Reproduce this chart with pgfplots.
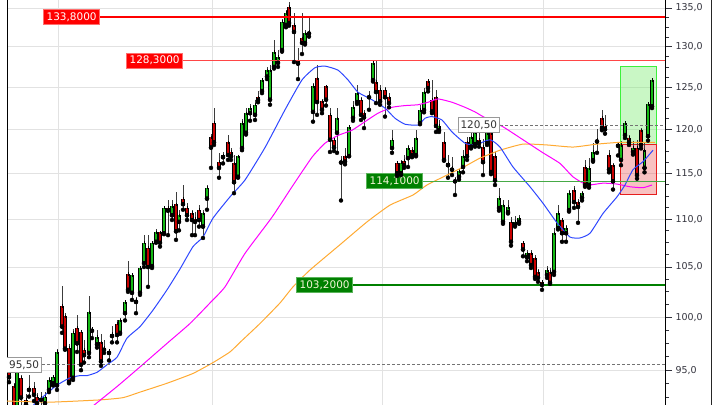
\documentclass[border=0pt]{standalone}
\usepackage{pgfplots}
\pgfplotsset{compat=1.18}
\usepackage{pgfplotstable}
\usepackage{fontspec}
\setmainfont{DejaVu Sans}

\definecolor{cgreen}{RGB}{20,185,20}
\definecolor{cred}{RGB}{200,0,0}
\definecolor{wick}{RGB}{60,60,60}
\definecolor{mablue}{RGB}{45,70,255}
\definecolor{mamag}{RGB}{255,0,255}
\definecolor{maorange}{RGB}{255,170,50}
\definecolor{lvlred}{RGB}{255,0,0}
\definecolor{lvlred2}{RGB}{255,70,70}
\definecolor{lvlredborder}{RGB}{255,110,110}
\definecolor{lvlgreen}{RGB}{0,128,0}
\definecolor{lvlgreen2}{RGB}{70,170,70}
\definecolor{lvlgreenborder}{RGB}{90,180,90}
\definecolor{lbltext}{RGB}{245,245,215}
\definecolor{gridgray}{RGB}{226,226,226}
\definecolor{tickgray}{RGB}{50,50,60}
\definecolor{boxgreenfill}{RGB}{120,235,110}
\definecolor{boxgreenline}{RGB}{60,240,60}
\definecolor{boxredfill}{RGB}{235,80,80}
\definecolor{boxredline}{RGB}{230,30,30}

\pgfplotstableread{
x o h l c
9 94.86 95.2 93.9 94.35
14 93.56 93.8 91.0 91.5
17 91.7 95.3 91.3 95.0
21 94.3 94.6 91.5 92.5
26 92.3 92.8 91.2 91.9
29 93.2 94.6 92.6 93.4
34 93.4 93.9 92.2 92.75
37 92.6 92.9 91.5 92.0
41 92.3 93.0 91.6 92.5
45 92.0 93.0 91.6 92.6
49 93.2 94.4 93.0 94.1
53 93.8 94.6 93.6 94.4
57 93.6 97.0 93.2 96.7
62 101.1 103.1 98.5 99.1
65 100.1 100.4 96.9 97.0
69 97.1 97.4 93.8 93.9
73 94.3 98.9 94.1 98.5
77 99.0 100.2 96.7 97.5
81 98.6 98.7 95.0 95.5
84 96.9 97.8 95.7 96.4
89 96.6 102.1 96.2 100.5
92 98.9 99.1 98.0 98.7
97 97.4 98.8 97.1 98.1
101 97.6 98.4 95.4 95.8
104 97.1 97.8 96.6 96.9
109 96.8 96.9 95.9 96.6
112 98.2 99.2 97.6 98.4
117 99.4 99.7 97.6 98.3
120 98.5 99.9 98.4 99.7
125 100.4 101.6 99.7 101.5
128 104.3 105.6 102.5 102.7
132 102.4 104.4 101.7 104.2
136 101.5 102.0 100.4 101.7
140 102.4 105.1 102.2 104.9
144 105.4 108.3 105.0 107.5
148 107.0 108.3 103.0 105.0
152 105.1 107.6 104.9 107.5
156 107.6 108.9 107.5 108.6
160 108.6 108.7 107.1 107.5
164 108.5 111.3 108.4 111.2
168 111.2 112.1 108.3 110.9
172 110.4 112.1 109.9 111.4
176 111.6 112.9 107.8 108.7
179 109.7 111.0 108.8 110.4
183 112.2 113.7 111.0 111.6
187 111.2 111.7 109.9 110.4
192 110.65 111.0 108.3 109.9
195 110.0 110.8 108.3 109.7
199 111.0 111.5 109.2 109.9
203 109.2 111.0 108.0 110.6
207 112.2 113.7 111.0 113.4
211 119.1 119.5 115.6 117.9
214 120.8 122.5 118.2 118.5
219 116.3 117.3 114.5 115.6
223 116.8 117.4 116.1 117.0
228 118.5 119.3 116.5 117.05
231 117.4 117.8 116.5 116.9
234 116.1 117.0 112.8 114.0
238 114.6 117.1 114.5 116.9
242 117.85 121.2 117.6 120.75
246 119.6 122.5 119.4 121.9
250 121.9 123.0 121.0 122.5
255 121.7 123.5 121.1 122.9
258 123.8 124.5 123.2 123.47
262 124.55 126.1 124.3 125.89
267 126.3 127.5 126.0 127.1
270 123.5 127.74 122.9 127.1
274 127.5 130.9 127.3 129.36
278 128.0 129.6 127.5 128.74
282 129.6 133.5 129.4 133.2
286 132.8 134.7 132.5 134.35
289 135.13 135.8 132.7 133.05
294 132.8 134.3 128.1 131.9
298 128.2 129.9 126.0 127.9
302 131.1 134.3 129.1 130.5
305 130.5 132.2 130.3 131.7
309 131.9 133.9 131.3 131.7
313 122.05 125.5 120.9 125.16
317 126.1 127.7 121.7 123.23
322 123.3 123.6 121.9 122.3
326 125.1 125.3 122.8 123.5
330 121.7 122.5 117.4 118.8
334 118.8 119.1 117.5 117.9
337 119.6 122.5 117.3 121.3
341 116.4 116.9 112.0 116.2
345 116.9 117.85 116.0 116.3
349 116.94 120.4 116.9 120.27
353 121.34 123.3 121.0 122.64
357 123.23 125.3 123.0 124.31
361 123.5 123.8 121.1 121.7
364 121.9 122.3 120.15 121.4
369 123.8 124.6 122.3 124.0
373 125.89 128.1 125.7 127.99
376 125.65 128.2 123.1 124.43
380 124.7 125.3 122.9 123.3
385 124.7 125.0 121.5 123.8
389 123.8 124.3 122.6 123.1
392 117.85 119.9 117.3 118.8
397 116.2 116.4 114.7 115.0
401 115.0 116.5 114.8 116.2
404 116.4 117.0 115.6 115.9
408 116.7 118.2 115.7 117.85
412 117.6 118.0 116.8 117.05
416 117.05 119.9 116.9 118.95
420 120.75 122.9 120.6 122.28
424 122.28 124.9 122.0 124.4
428 125.77 126.0 124.5 124.91
432 123.5 125.9 121.9 122.1
436 123.8 124.7 119.7 120.4
439 119.9 121.1 119.7 120.4
444 118.5 119.7 116.4 116.5
448 115.9 117.0 114.5 116.1
452 115.6 116.8 114.8 115.4
455 114.3 114.6 112.6 114.1
459 114.6 115.5 114.3 115.2
463 115.7 117.6 115.1 116.9
467 118.5 119.1 116.5 116.9
471 118.0 119.6 117.8 119.1
475 118.3 120.4 118.0 119.6
479 118.8 119.8 118.0 118.4
483 117.96 118.9 114.8 116.25
487 118.4 120.0 118.2 119.57
491 119.57 120.1 114.9 115.14
495 116.9 117.4 113.7 114.2
499 111.19 113.4 110.9 112.27
503 109.7 112.1 109.5 111.5
508 110.75 112.1 110.6 111.3
511 109.7 110.2 107.2 107.6
515 109.4 110.3 109.2 109.7
519 109.7 110.44 109.5 110.1
523 107.5 107.7 106.1 106.8
527 106.0 106.8 105.6 106.4
531 106.4 106.7 104.9 105.2
535 105.9 106.2 103.8 104.0
538 104.5 104.8 103.5 103.9
542 103.5 103.7 102.7 103.2
547 104.2 105.1 103.9 104.7
550 104.5 104.9 103.3 103.4
554 104.5 109.0 104.2 108.5
558 109.05 111.5 108.9 110.65
562 109.9 110.1 107.6 108.5
566 108.5 109.4 107.6 109.05
569 110.97 113.1 110.8 112.82
574 113.15 113.55 111.2 111.83
578 111.8 112.2 109.6 111.3
582 112.3 113.0 112.0 112.8
585 115.7 116.5 113.5 113.7
589 113.7 116.7 113.4 115.58
593 116.48 118.4 116.3 117.4
597 118.6 120.1 117.3 118.8
602 121.34 122.3 119.9 120.15
605 120.4 121.7 119.5 120.0
609 117.05 117.6 115.1 115.4
613 115.9 116.1 113.2 114.1
618 118.1 118.5 117.0 118.3
621 116.5 118.6 115.9 118.2
625 119.34 121.0 119.0 120.75
629 119.0 119.4 118.2 118.5
633 117.4 118.7 117.1 117.9
637 117.9 118.8 114.4 114.8
641 119.9 120.2 117.8 118.2
644.5 115.6 118.57 115.1 117.6
648 119.2 123.2 118.7 122.99
652 122.7 126.1 122.5 125.9
}\candles

\tikzset{
  lbl/.style={inner xsep=3bp, inner ysep=0pt, minimum height=15bp,
    font=\fontsize{10.5}{12}\selectfont, line width=0.8bp},
  redlbl/.style={lbl, fill=lvlred, draw=lvlredborder, text=white},
  greenlbl/.style={lbl, fill=lvlgreen, draw=lvlgreenborder, text=lbltext},
  graylbl/.style={lbl, fill=white, draw=gray!80, text=black!80, inner xsep=2.5bp},
}

\begin{document}
\begin{tikzpicture}
\useasboundingbox (-7bp,0) rectangle (713bp,405bp);
\begin{axis}[
  at={(0,0)}, anchor=south west,
  scale only axis, width=658bp, height=405bp,
  xmin=7, xmax=665, ymin=91.85, ymax=136.06, ymode=log,
  separate axis lines,
  x axis line style={draw=none},
  y axis line style={draw=black, line width=1bp},
  xtick={58,212,382,543}, xticklabels={}, xmajorgrids,
  xtick style={draw=none},
  ytick={95,100,105,110,115,120,125,130,135},
  yticklabels={{95,0},{100,0},{105,0},{110,0},{115,0},{120,0},{125,0},{130,0},{135,0}},
  minor ytick={92.5,93.75,96.25,97.5,98.75,101.25,102.5,103.75,106.25,107.5,108.75,111.25,112.5,113.75,116.25,117.5,118.75,121.25,122.5,123.75,126.25,127.5,128.75,131.25,132.5,133.75},
  ymajorgrids,
  grid style={draw=gridgray, line width=0.8bp},
  ytick pos=right, yticklabel pos=right,
  tick align=outside, major tick length=7bp, minor tick length=4bp,
  ytick style={draw=tickgray, line width=0.8bp},
  yticklabel style={font=\fontsize{9.5}{11}\selectfont, text=tickgray},
  clip=true,
]
% boxes
\addplot[fill=boxgreenfill, fill opacity=0.4, draw=boxgreenline, line width=1bp, forget plot]
  coordinates {(620,118.2) (656,118.2) (656,127.6) (620,127.6) (620,118.2)};
\addplot[fill=boxredfill, fill opacity=0.35, draw=boxredline, line width=1bp, forget plot]
  coordinates {(620,112.7) (656,112.7) (656,118.2) (620,118.2) (620,112.7)};

% wicks
\addplot[only marks, mark=none, forget plot,
  error bars/.cd, y dir=plus, y explicit, error mark=none,
  error bar style={draw=wick, line width=0.9bp}]
  table[x=x, y=l, y error plus expr=\thisrow{h}-\thisrow{l}] {\candles};
% body outline
\addplot[only marks, mark=none, forget plot,
  error bars/.cd, y dir=plus, y explicit, error mark=none,
  error bar style={draw=black, line width=3.2bp}]
  table[x=x, y expr={min(\thisrow{o},\thisrow{c})},
        y error plus expr={abs(\thisrow{c}-\thisrow{o})}] {\candles};
% green bodies
\addplot[only marks, mark=none, forget plot,
  error bars/.cd, y dir=plus, y explicit, error mark=-,
  error mark options={draw=black, mark size=1.6bp, line width=0.6bp},
  error bar style={draw=cgreen, line width=1.8bp}]
  table[x=x, y=o, y error plus expr=\thisrow{c}-\thisrow{o},
        restrict expr to domain={\thisrow{c}-\thisrow{o}}{0:1000}] {\candles};
% red bodies
\addplot[only marks, mark=none, forget plot,
  error bars/.cd, y dir=plus, y explicit, error mark=-,
  error mark options={draw=black, mark size=1.6bp, line width=0.6bp},
  error bar style={draw=cred, line width=1.8bp}]
  table[x=x, y=c, y error plus expr=\thisrow{o}-\thisrow{c},
        restrict expr to domain={\thisrow{o}-\thisrow{c}}{0:1000}] {\candles};

% moving averages
\addplot[maorange, line width=1bp, smooth, tension=0.3] coordinates {
(7,92.2) (50,92.1) (100,92.3) (123,92.5) (140,93.0) (167,93.8) (193,94.7) (213,95.7) (230,96.7) (240,97.6) (260,99.4) (280,101.4) (293,103.0) (310,104.7) (340,107.3) (367,109.7) (390,111.5) (413,112.6) (427,113.7) (447,114.8) (467,115.9) (480,116.7) (500,117.6) (523,118.3) (547,118.2) (573,117.96) (597,118.3) (620,118.5) (647,118.5) (655,118.5)};
\addplot[mamag, line width=1bp, smooth, tension=0.3] coordinates {
(88,91.4) (117,93.5) (140,95.3) (167,97.5) (190,99.4) (210,101.4) (225,103.0) (245,106.4) (272,110.2) (292,113.5) (312,116.8) (325,118.4) (338,119.3) (352,119.9) (365,120.9) (378,121.9) (392,122.6) (405,122.8) (418,122.9) (428,123.2) (438,123.6) (452,123.2) (465,122.6) (475,122.05) (483,121.5) (503,120.3) (523,118.8) (543,117.3) (560,116.1) (573,114.6) (587,113.7) (603,113.9) (617,113.8) (630,113.5) (643,113.4) (652,113.7)};
\addplot[mablue, line width=1bp, smooth, tension=0.3] coordinates {
(28,91.4) (55,93.5) (70,94.3) (80,94.5) (87,94.5) (97,94.8) (107,95.5) (117,96.2) (127,98.0) (140,99.1) (153,100.7) (167,102.7) (180,104.8) (193,107.1) (203,108.1) (213,110.1) (230,112.4) (245,114.25) (265,117.9) (285,122.3) (302,125.9) (315,127.4) (325,127.6) (338,127.1) (348,125.9) (358,124.4) (372,123.5) (385,122.5) (395,121.3) (405,120.6) (418,120.5) (425,121.3) (432,121.5) (442,121.1) (452,119.7) (465,118.4) (475,118.2) (490,118.8) (500,117.96) (513,115.7) (530,113.5) (543,111.7) (557,109.6) (570,108.1) (580,108.0) (590,108.5) (603,110.6) (617,112.4) (625,113.7) (633,115.4) (643,116.3) (653,117.6)};

% level lines
\addplot[lvlred, line width=2.2bp] coordinates {(100,133.8) (665,133.8)};
\addplot[lvlred2, line width=1.4bp] coordinates {(183,128.3) (665,128.3)};
\addplot[lvlgreen2, line width=1.4bp] coordinates {(423,114.1) (665,114.1)};
\addplot[lvlgreen, line width=2bp] coordinates {(353,103.2) (665,103.2)};
\addplot[gray!90!black, line width=0.9bp, dash pattern=on 3bp off 2bp] coordinates {(500,120.5) (665,120.5)};
\addplot[gray!90!black, line width=0.9bp, dash pattern=on 3bp off 2bp] coordinates {(42,95.5) (665,95.5)};

% labels
\node[redlbl, anchor=east] at (axis cs:100,133.8) {133,8000};
\node[redlbl, anchor=east] at (axis cs:183,128.3) {128,3000};
\node[greenlbl, anchor=east] at (axis cs:423,114.1) {114,1000};
\node[greenlbl, anchor=east] at (axis cs:353,103.2) {103,2000};
\node[graylbl, anchor=east] at (axis cs:500,120.5) {120,50};
\node[graylbl, anchor=east] at (axis cs:42,95.5) {95,50};
\end{axis}
\draw[black!85, line width=1bp] (704bp,0) -- (704bp,405bp);
\end{tikzpicture}
\end{document}
